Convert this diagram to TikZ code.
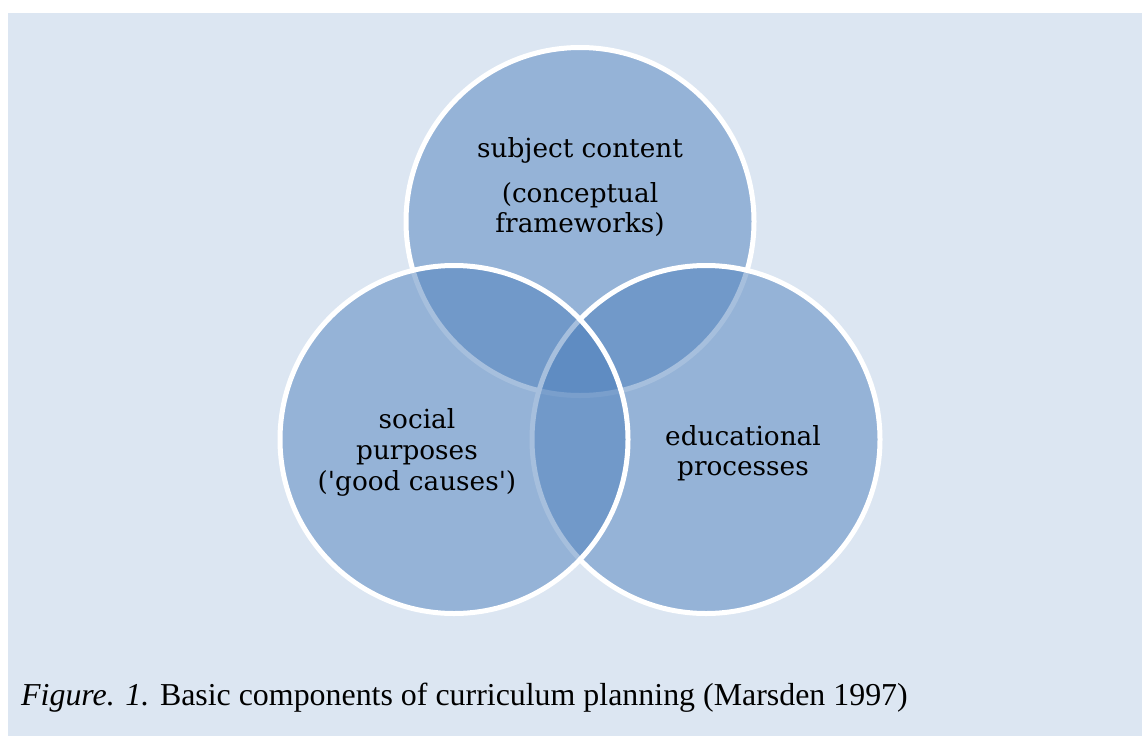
\documentclass[tikz,border=0pt]{standalone}
\usepackage{fontspec}
\setmainfont{Liberation Serif}
\newfontfamily\circfont{DejaVu Serif}
\definecolor{bgblue}{HTML}{DCE6F2}
\definecolor{accent}{HTML}{4F81BD}
\tikzset{
  venn/.style={draw=white, line width=5pt, fill=accent, fill opacity=0.5, draw opacity=1},
  lbl/.style={anchor=base, inner sep=0pt, font=\circfont\fontsize{26.3}{30}\selectfont, text=black},
  captext/.style={anchor=base west, inner sep=0pt, font=\fontsize{31.9}{36}\selectfont, text=black}
}
\begin{document}
\begin{tikzpicture}[x=1pt,y=-1pt]
\useasboundingbox (0,0) rectangle (1142,736);
\fill[bgblue] (7.5,13) rectangle (1142,736);
\coordinate (ctop) at (580,221.5);
\coordinate (cright) at (706,439.5);
\coordinate (cleft) at (454,439.5);
\draw[venn] (ctop) circle[radius=174];
\draw[venn] (cright) circle[radius=174];
\draw[venn] (cleft) circle[radius=174];
\node[lbl] (t1) at (580,157) {subject content};
\node[lbl] (t2) at (580,202.7) {(conceptual};
\node[lbl] (t3) at (580,232.7) {frameworks)};
\node[lbl] (l1) at (417,428) {social};
\node[lbl] (l2) at (417,459) {purposes};
\node[lbl] (l3) at (417,490) {('good causes')};
\node[lbl] (r1) at (743,445) {educational};
\node[lbl] (r2) at (743,475) {processes};
\node[captext] (caption) at (21,705) {\textit{Figure. 1.} Basic components of curriculum planning (Marsden 1997)};
\end{tikzpicture}
\end{document}
